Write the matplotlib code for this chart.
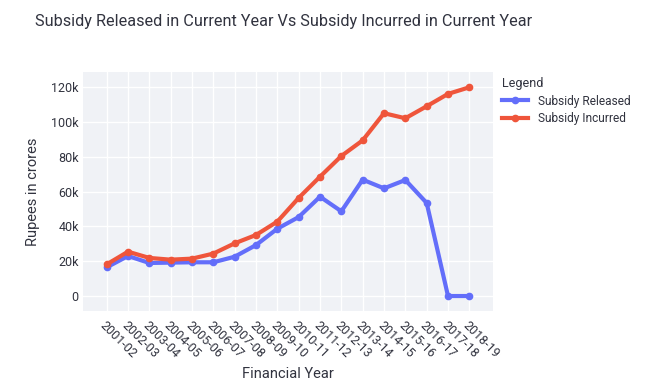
import matplotlib.pyplot as plt
from matplotlib.ticker import FuncFormatter

years = ['2001-02', '2002-03', '2003-04', '2004-05', '2005-06', '2006-07',
         '2007-08', '2008-09', '2009-10', '2010-11', '2011-12', '2012-13',
         '2013-14', '2014-15', '2015-16', '2016-17', '2017-18', '2018-19']
released = [16500, 23000, 19000, 19200, 19400, 19400, 22600, 29300, 38700,
            45400, 57100, 48700, 66900, 61900, 66700, 53500, 0, 0]
incurred = [18200, 25500, 21900, 20900, 21500, 24400, 30300, 35100, 42800,
            56400, 68600, 80500, 89500, 105100, 102200, 109100, 116200, 120000]

txt = '#31333F'
plt.rcParams['font.family'] = ['Roboto', 'DejaVu Sans']

fig = plt.figure(figsize=(6.5, 3.9), dpi=100)
ax = fig.add_axes([0.1277, 0.2026, 0.6308, 0.6128])
ax.set_facecolor('#F0F2F6')

x = list(range(len(years)))
ax.plot(x, released, color='#636EFA', lw=3, marker='o', ms=4.5, label='Subsidy Released', zorder=3)
ax.plot(x, incurred, color='#EF553B', lw=3, marker='o', ms=4.5, label='Subsidy Incurred', zorder=3)

ax.set_xlim(-1.11, 18.11)
ax.set_ylim(-8600, 128800)
ax.set_yticks([0, 20000, 40000, 60000, 80000, 100000, 120000])
ax.yaxis.set_major_formatter(FuncFormatter(lambda v, p: '0' if v == 0 else f'{int(v/1000)}k'))
ax.set_xticks(x)
ax.set_xticklabels(years, rotation=-45, ha='left', va='top', rotation_mode='anchor')
ax.grid(True, color='white', lw=1)
ax.set_axisbelow(True)
for s in ax.spines.values():
    s.set_visible(False)
ax.tick_params(length=0, colors=txt, labelsize=9)
ax.tick_params(axis='x', pad=6)
ax.tick_params(axis='y', pad=3)

ax.set_xlabel('Financial Year', fontsize=10.5, color=txt)
ax.set_ylabel('Rupees in crores', fontsize=10.5, color=txt, labelpad=8)
ax.xaxis.set_label_coords(0.5, -0.235)

fig.text(0.054, 0.945, 'Subsidy Released in Current Year Vs Subsidy Incurred in Current Year',
         fontsize=11.7, color=txt, va='center')

leg = ax.legend(title='Legend', loc='upper left', bbox_to_anchor=(1.01, 1.0),
                frameon=False, fontsize=8.6, title_fontsize=9, handlelength=2.2,
                labelspacing=0.4, borderaxespad=0)
leg._legend_box.align = 'left'
for t in leg.get_texts():
    t.set_color(txt)
leg.get_title().set_color(txt)

fig.savefig('out.png', dpi=100)
